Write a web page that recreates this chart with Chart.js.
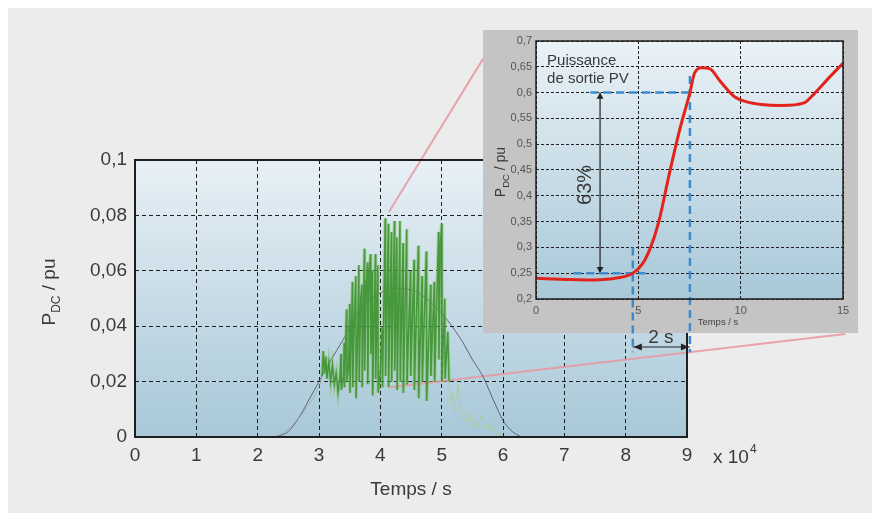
<!DOCTYPE html>
<html>
<head>
<meta charset="utf-8">
<script src="https://cdn.jsdelivr.net/npm/chart.js@4.4.1/dist/chart.umd.min.js"></script>
<style>
  html, body { margin: 0; padding: 0; background: #fff; }
  #stage { position: relative; width: 872px; height: 513px; overflow: hidden; }
  #frame { position: absolute; left: 8px; top: 8px; width: 864px; height: 505px; background: #ececec; }
  #mainChart { position: absolute; left: 0; top: 0; }
  #insetPanel { position: absolute; left: 483px; top: 30px; width: 375px; height: 303px; background: #c4c4c4; }
  #insetChart { position: absolute; left: 483px; top: 30px; }
</style>
</head>
<body>
<div id="stage">
  <div id="frame"></div>
  <canvas id="mainChart" width="872" height="513"></canvas>
  <div id="insetPanel"></div>
  <canvas id="insetChart" width="375" height="335"></canvas>
</div>
<script>
// ---- main chart data (time in 10^4 s, power in pu) ----
const mainXTicks = [0, 1, 2, 3, 4, 5, 6, 7, 8, 9];
const mainXLabels = ["0", "1", "2", "3", "4", "5", "6", "7", "8", "9"];
const mainYTicks = [0, 0.02, 0.04, 0.06, 0.08, 0.1];
const mainYLabels = ["0", "0,02", "0,04", "0,06", "0,08", "0,1"];

// measured PV power, noisy part
const pvT = [3.05, 3.07, 3.09, 3.11, 3.13, 3.16, 3.19, 3.22, 3.25, 3.28, 3.31, 3.34, 3.36, 3.365,
  3.40, 3.41, 3.415, 3.45, 3.455, 3.48, 3.50, 3.505, 3.53, 3.545, 3.55, 3.58, 3.60, 3.605,
  3.63, 3.65, 3.655, 3.68, 3.70, 3.705, 3.74, 3.745, 3.77, 3.79, 3.795, 3.82, 3.84, 3.845,
  3.87, 3.875, 3.92, 3.925, 3.96, 3.965, 4.00, 4.03, 4.035, 4.08, 4.085, 4.13, 4.135,
  4.18, 4.185, 4.23, 4.235, 4.27, 4.275, 4.32, 4.325, 4.37, 4.375, 4.43, 4.435, 4.49, 4.495,
  4.55, 4.555, 4.62, 4.625, 4.68, 4.685, 4.75, 4.755, 4.82, 4.825, 4.88, 4.885, 4.95, 4.955,
  4.98, 5.00, 5.005, 5.05, 5.055, 5.10, 5.12];
const pvP = [0.022, 0.031, 0.023, 0.029, 0.021, 0.027, 0.020, 0.026, 0.019, 0.023, 0.016, 0.021, 0.030, 0.017,
  0.022, 0.034, 0.018, 0.046, 0.020, 0.025, 0.048, 0.016, 0.040, 0.056, 0.018, 0.045, 0.058, 0.014,
  0.038, 0.062, 0.020, 0.050, 0.055, 0.018, 0.068, 0.024, 0.055, 0.063, 0.019, 0.060, 0.066, 0.030,
  0.060, 0.015, 0.066, 0.021, 0.062, 0.016, 0.024, 0.040, 0.018, 0.079, 0.022, 0.077, 0.018,
  0.074, 0.020, 0.078, 0.024, 0.072, 0.017, 0.078, 0.020, 0.070, 0.016, 0.075, 0.019, 0.060, 0.022,
  0.064, 0.017, 0.069, 0.014, 0.058, 0.020, 0.067, 0.013, 0.055, 0.022, 0.056, 0.020, 0.074, 0.028,
  0.070, 0.077, 0.020, 0.050, 0.021, 0.038, 0.020];

// faint low part before / after
const pvLeadT = [2.30, 2.45, 2.60, 2.75, 2.90, 3.00, 3.05];
const pvLeadP = [0.000, 0.002, 0.005, 0.009, 0.014, 0.018, 0.022];
const pvTailT = [5.12, 5.15, 5.18, 5.20, 5.24, 5.27, 5.30, 5.34, 5.38, 5.42, 5.46, 5.50, 5.54, 5.58,
  5.62, 5.66, 5.70, 5.75, 5.80, 5.85, 5.90, 6.00];
const pvTailP = [0.020, 0.012, 0.016, 0.009, 0.014, 0.019, 0.010, 0.007, 0.009, 0.005, 0.008, 0.004, 0.007, 0.003,
  0.006, 0.008, 0.003, 0.005, 0.002, 0.004, 0.001, 0.001];

// clear sky curve
const clearT = [2.28, 2.50, 2.70, 2.85, 3.00, 3.20, 3.39, 3.63, 3.80, 4.00, 4.15, 4.32, 4.45, 4.59,
  4.80, 5.00, 5.20, 5.35, 5.50, 5.67, 5.85, 6.00, 6.15, 6.30];
const clearP = [0.000, 0.002, 0.008, 0.014, 0.020, 0.028, 0.035, 0.0447, 0.049, 0.052, 0.0535, 0.0537, 0.0533, 0.0525,
  0.049, 0.0447, 0.039, 0.034, 0.028, 0.022, 0.013, 0.006, 0.002, 0.000];

// zoom connector lines (main chart coordinates)
const zoomTopT = [4.14, 5.674];
const zoomTopP = [0.0812, 0.1365];
const zoomBotT = [4.15, 11.58];
const zoomBotP = [0.018, 0.0372];

// ---- inset data (time in s, power in pu) ----
const insetXTicks = [0, 5, 10, 15];
const insetXLabels = ["0", "5", "10", "15"];
const insetYTicks = [0.2, 0.25, 0.3, 0.35, 0.4, 0.45, 0.5, 0.55, 0.6, 0.65, 0.7];
const insetYLabels = ["0,2", "0,25", "0,3", "0,35", "0,4", "0,45", "0,5", "0,55", "0,6", "0,65", "0,7"];

const redT = [0, 1.5, 2.8, 4.0, 4.73, 5.2, 5.6, 6.0, 6.5, 7.0, 7.52, 7.75, 8.1, 8.5, 9.0, 9.7,
  10.3, 11.0, 12.0, 13.1, 13.6, 14.3, 15.0];
const redP = [0.240, 0.238, 0.237, 0.241, 0.250, 0.268, 0.300, 0.350, 0.440, 0.525, 0.600, 0.638,
  0.648, 0.646, 0.622, 0.592, 0.582, 0.577, 0.575, 0.580, 0.598, 0.628, 0.657];

// construction lines
const tauHighT = [2.65, 7.72];  const tauHighP = [0.6, 0.6];
const tauLowT = [1.83, 5.35];   const tauLowP = [0.25, 0.25];
const tauStartT = [4.73, 4.73]; const tauStartP = [0.30, 0.097];
const tauEndT = [7.52, 7.52];   const tauEndP = [0.632, 0.097];
const pctArrowT = [3.13, 3.13]; const pctArrowP = [0.6, 0.25];
const pctHeadT = [3.13, 3.13];  const pctHeadP = [0.592, 0.258];
const secArrowT = [4.73, 7.52]; const secArrowP = [0.107, 0.107];

const zip = (xs, ys) => xs.map((x, i) => ({ x, y: ys[i] }));
const FONT = "'Liberation Sans', Arial, sans-serif";
const TXT = "#3a3a3a";

const line = (data, color, width, extra = {}) => Object.assign({
  data, borderColor: color, borderWidth: width, pointRadius: 0, fill: false, clip: false, tension: 0
}, extra);

function drawSubTitle(ctx, x, y, size, subSize, color) {
  ctx.save();
  ctx.translate(x, y);
  ctx.rotate(-Math.PI / 2);
  ctx.fillStyle = color;
  ctx.textBaseline = "alphabetic";
  ctx.font = `${size}px ${FONT}`;
  const wP = ctx.measureText("P").width;
  const wRest = ctx.measureText(" / pu").width;
  ctx.font = `${subSize}px ${FONT}`;
  const wSub = ctx.measureText("DC").width;
  let cx = -(wP + wSub + wRest) / 2;
  const base = size * 0.36;
  ctx.font = `${size}px ${FONT}`;
  ctx.fillText("P", cx, base); cx += wP;
  ctx.font = `${subSize}px ${FONT}`;
  ctx.fillText("DC", cx, base + size * 0.25); cx += wSub;
  ctx.font = `${size}px ${FONT}`;
  ctx.fillText(" / pu", cx, base);
  ctx.restore();
}

function plotBackground(chart, top, bottom) {
  const { ctx, chartArea: a } = chart;
  const g = ctx.createLinearGradient(0, a.top, 0, a.bottom);
  g.addColorStop(0, top);
  g.addColorStop(1, bottom);
  ctx.save();
  ctx.fillStyle = g;
  ctx.fillRect(a.left, a.top, a.width, a.height);
  ctx.restore();
}

function plotFrame(chart, width) {
  const { ctx, chartArea: a } = chart;
  ctx.save();
  ctx.strokeStyle = "#1f1f1f";
  ctx.lineWidth = width;
  ctx.strokeRect(a.left, a.top, a.width, a.height);
  ctx.restore();
}

// small filled arrow head, tip at (px, py), pointing along angle
function arrowHead(ctx, px, py, angle) {
  ctx.save();
  ctx.translate(px, py);
  ctx.rotate(angle);
  ctx.fillStyle = "#222";
  ctx.beginPath();
  ctx.moveTo(0, 0);
  ctx.lineTo(-8, -3.5);
  ctx.lineTo(-8, 3.5);
  ctx.closePath();
  ctx.fill();
  ctx.restore();
}

const mainDecor = {
  id: "mainDecor",
  beforeDraw(chart) { plotBackground(chart, "#e8f0f6", "#a8c8d8"); },
  afterDatasetsDraw(chart) { plotFrame(chart, 2); },
  afterDraw(chart) {
    const ctx = chart.ctx;
    drawSubTitle(ctx, 48, 292, 19, 12, TXT);
    ctx.save();
    ctx.fillStyle = TXT;
    ctx.textBaseline = "alphabetic";
    ctx.font = `19px ${FONT}`;
    ctx.fillText("x 10", 713, 463);
    const w = ctx.measureText("x 10").width;
    ctx.font = `12px ${FONT}`;
    ctx.fillText("4", 713 + w + 1, 453);
    ctx.restore();
  }
};

new Chart(document.getElementById("mainChart"), {
  type: "line",
  data: {
    datasets: [
      line(zip(pvLeadT, pvLeadP), "rgba(150,170,150,0.6)", 1),
      line(zip(pvTailT, pvTailP), "rgba(170,205,150,0.8)", 1),
      line(zip(pvT, pvP), "rgba(120,190,80,0.45)", 3.5),
      line(zip(pvT, pvP), "rgba(18,112,32,0.92)", 1.5),
      line(zip(clearT, clearP), "rgba(80,70,90,0.8)", 1, { cubicInterpolationMode: "monotone" }),
      line(zip(zoomTopT, zoomTopP), "rgba(232,150,160,0.85)", 2),
      line(zip(zoomBotT, zoomBotP), "rgba(232,150,160,0.85)", 2)
    ]
  },
  options: {
    responsive: false,
    animation: false,
    events: [],
    layout: { padding: { left: 0, top: 160, right: 185, bottom: 0 } },
    plugins: { legend: { display: false }, tooltip: { enabled: false } },
    scales: {
      x: {
        type: "linear", min: 0, max: 9,
        afterFit: s => { s.height = 76; },
        afterBuildTicks: s => { s.ticks = mainXTicks.map(v => ({ value: v })); },
        ticks: { callback: (v, i) => mainXLabels[i], color: TXT, font: { family: FONT, size: 19 }, padding: 7, maxRotation: 0, autoSkip: false },
        grid: { color: "#1e1e1e", lineWidth: 1, drawTicks: false },
        border: { display: false, dash: [4, 3] },
        title: { display: true, text: "Temps / s", color: TXT, font: { family: FONT, size: 19 }, padding: { top: 0, bottom: 12 } }
      },
      y: {
        type: "linear", min: 0, max: 0.1,
        afterFit: s => { s.width = 135; },
        afterBuildTicks: s => { s.ticks = mainYTicks.map(v => ({ value: v })); },
        ticks: { callback: (v, i) => mainYLabels[i], color: TXT, font: { family: FONT, size: 19 }, padding: 8 },
        grid: { color: "#1e1e1e", lineWidth: 1, drawTicks: false },
        border: { display: false, dash: [4, 3] }
      }
    }
  },
  plugins: [mainDecor]
});

// ---- inset ----
const insetDecor = {
  id: "insetDecor",
  beforeDraw(chart) { plotBackground(chart, "#eaf2f7", "#a8c8d8"); },
  afterDatasetsDraw(chart) { plotFrame(chart, 1.5); },
  afterDraw(chart) {
    const { ctx, scales: { x, y }, chartArea: a } = chart;
    drawSubTitle(ctx, 17, (a.top + a.bottom) / 2 + 2, 14, 9.5, TXT);
    // "2 s" arrow heads
    const ay = y.getPixelForValue(secArrowP[0]);
    arrowHead(ctx, x.getPixelForValue(secArrowT[0]) + 1, ay, Math.PI);
    arrowHead(ctx, x.getPixelForValue(secArrowT[1]) - 1, ay, 0);
    ctx.save();
    ctx.fillStyle = TXT;
    ctx.textBaseline = "alphabetic";
    ctx.font = `15px ${FONT}`;
    ctx.fillText("Puissance", x.getPixelForValue(0.54), y.getPixelForValue(0.653));
    ctx.fillText("de sortie PV", x.getPixelForValue(0.54), y.getPixelForValue(0.618));
    ctx.font = `9.5px ${FONT}`;
    ctx.fillStyle = "#444";
    ctx.textAlign = "center";
    ctx.fillText("Temps / s", a.left + 182, a.bottom + 26);
    ctx.fillStyle = TXT;
    ctx.font = `19px ${FONT}`;
    ctx.textBaseline = "middle";
    ctx.fillText("2 s", x.getPixelForValue(6.1), y.getPixelForValue(0.1244));
    ctx.translate(x.getPixelForValue(2.42), y.getPixelForValue(0.421));
    ctx.rotate(-Math.PI / 2);
    ctx.font = `20px ${FONT}`;
    ctx.fillText("63%", 0, 0);
    ctx.restore();
  }
};

const blue = "#3d8bcc";
const dashBlue = { borderDash: [8, 5] };

new Chart(document.getElementById("insetChart"), {
  type: "line",
  data: {
    datasets: [
      line(zip(redT, redP), "#e3241c", 3, { cubicInterpolationMode: "monotone" }),
      line(zip(tauHighT, tauHighP), blue, 2.5, dashBlue),
      line(zip(tauLowT, tauLowP), blue, 2.5, dashBlue),
      line(zip(tauStartT, tauStartP), blue, 2.5, dashBlue),
      line(zip(tauEndT, tauEndP), blue, 2.5, dashBlue),
      line(zip(pctArrowT, pctArrowP), "#222", 1.2),
      line(zip(pctHeadT, pctHeadP), "#222", 0, { showLine: false, pointStyle: "triangle", pointRadius: 4, pointRotation: [0, 180], pointBackgroundColor: "#222", pointBorderWidth: 0 }),
      line(zip(secArrowT, secArrowP), "#222", 1.2)
    ]
  },
  options: {
    responsive: false,
    animation: false,
    events: [],
    layout: { padding: { left: 0, top: 11, right: 15, bottom: 0 } },
    plugins: { legend: { display: false }, tooltip: { enabled: false } },
    scales: {
      x: {
        type: "linear", min: 0, max: 15,
        afterFit: s => { s.height = 66; },
        afterBuildTicks: s => { s.ticks = insetXTicks.map(v => ({ value: v })); },
        ticks: { callback: (v, i) => insetXLabels[i], color: "#555", font: { family: FONT, size: 11 }, padding: 5, maxRotation: 0, autoSkip: false },
        grid: { color: "#1e1e1e", lineWidth: 1, drawTicks: false },
        border: { display: false, dash: [3, 2] }
      },
      y: {
        type: "linear", min: 0.2, max: 0.7,
        afterFit: s => { s.width = 53; },
        afterBuildTicks: s => { s.ticks = insetYTicks.map(v => ({ value: v })); },
        ticks: { callback: (v, i) => insetYLabels[i], color: "#555", font: { family: FONT, size: 11 }, padding: 4 },
        grid: { color: "#1e1e1e", lineWidth: 1, drawTicks: false },
        border: { display: false, dash: [3, 2] }
      }
    }
  },
  plugins: [insetDecor]
});
</script>
</body>
</html>
